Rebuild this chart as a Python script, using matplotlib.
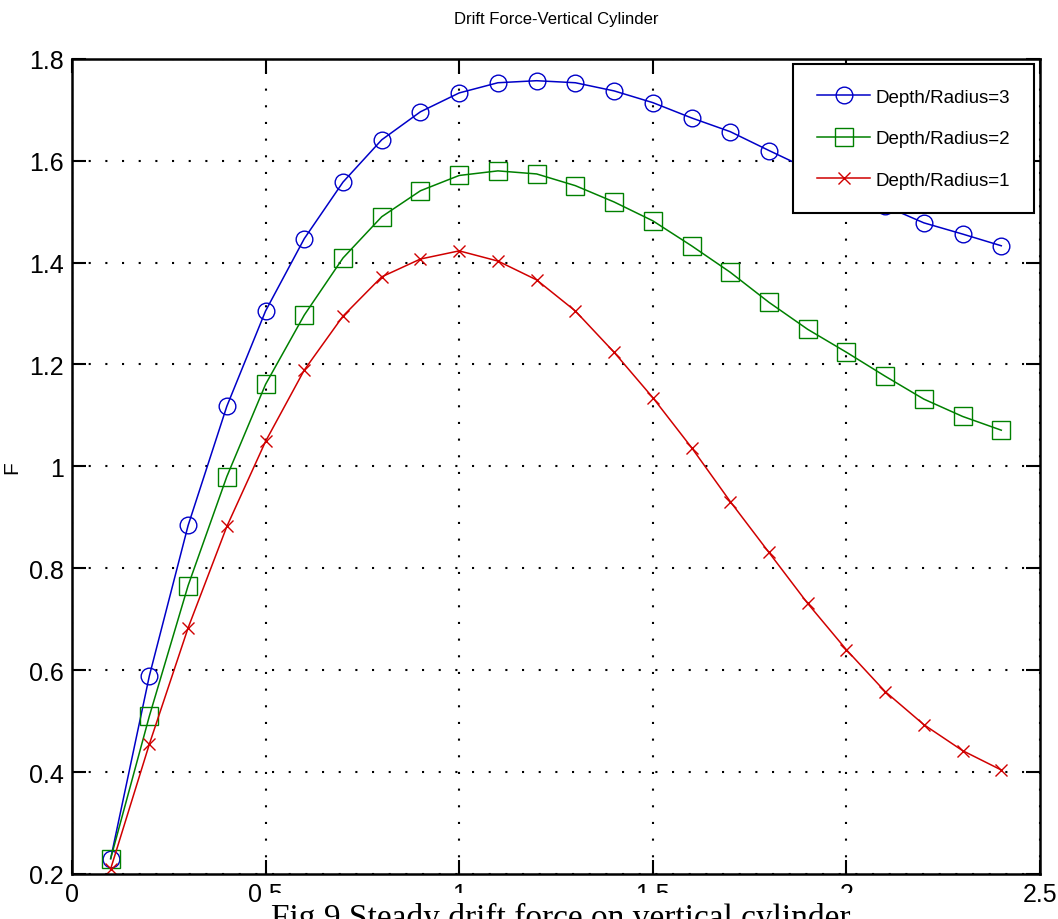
import matplotlib.pyplot as plt
import numpy as np

# wave number values (x) and drift force for the three depth ratios
x = [0.1, 0.2, 0.3, 0.4, 0.5, 0.6, 0.7, 0.8, 0.9, 1.0, 1.1, 1.2,
     1.3, 1.4, 1.5, 1.6, 1.7, 1.8, 1.9, 2.0, 2.1, 2.2, 2.3, 2.4]
f_ratio3 = [0.23, 0.589, 0.884, 1.118, 1.305, 1.447, 1.558, 1.641, 1.696, 1.733,
            1.753, 1.757, 1.753, 1.737, 1.714, 1.684, 1.657, 1.620, 1.584, 1.547,
            1.511, 1.478, 1.456, 1.433]
f_ratio2 = [0.23, 0.51, 0.766, 0.980, 1.161, 1.297, 1.409, 1.490, 1.541, 1.571,
            1.580, 1.574, 1.551, 1.519, 1.482, 1.433, 1.381, 1.322, 1.269, 1.224,
            1.177, 1.132, 1.098, 1.071]
f_ratio1 = [0.21, 0.455, 0.683, 0.882, 1.049, 1.189, 1.295, 1.372, 1.407, 1.423,
            1.403, 1.366, 1.305, 1.224, 1.135, 1.037, 0.931, 0.831, 0.731, 0.640,
            0.558, 0.493, 0.442, 0.404]
labels = ["Depth/Radius=3", "Depth/Radius=2", "Depth/Radius=1"]
xtick_labels = ['0', '0.5', '1', '1.5', '2', '2.5']
ytick_labels = ['0.2', '0.4', '0.6', '0.8', '1', '1.2', '1.4', '1.6', '1.8']

plt.rcParams['font.family'] = ['Liberation Sans', 'DejaVu Sans']

fig = plt.figure(figsize=(10.58, 9.2), dpi=100)
ax = fig.add_axes([0.068, 0.049, 0.915, 0.886])

ax.plot(x, f_ratio3, color='#0000c8', marker='o', markersize=12,
        markerfacecolor='none', linewidth=1.1, label=labels[0])
ax.plot(x, f_ratio2, color='#008000', marker='s', markersize=13,
        markerfacecolor='none', linewidth=1.1, label=labels[1])
ax.plot(x, f_ratio1, color='#d00000', marker='x', markersize=9,
        linewidth=1.1, label=labels[2])

ax.set_xlim(0, 2.5)
ax.set_ylim(0.2, 1.8)
ax.set_xticks([0, 0.5, 1, 1.5, 2, 2.5])
ax.set_xticklabels(xtick_labels)
ax.set_yticks(np.linspace(0.2, 1.8, 9))
ax.set_yticklabels(ytick_labels)
ax.tick_params(direction='in', length=10, width=1.5, labelsize=18,
               top=True, right=True, pad=6)
ax.grid(True, color='black', linestyle=(0, (1, 7)), linewidth=1.5)
for s in ax.spines.values():
    s.set_linewidth(1.8)

ax.set_title("Drift Force-Vertical Cylinder", fontsize=12, pad=26)
ax.set_ylabel("F", fontsize=15)
ax.yaxis.set_label_coords(-0.052, 0.5)

leg = ax.legend(loc='upper right', fontsize=13.5, fancybox=False, framealpha=1,
                edgecolor='black', borderaxespad=0.3, handlelength=2.8,
                labelspacing=1.3, handletextpad=0.3, borderpad=1.3)
leg.get_frame().set_linewidth(1.5)

# caption pasted over the lower part of the figure, as in the source image
fig.text(0.53, 0.019, "Fig.9 Steady drift force on vertical cylinder",
         family='Liberation Serif', fontsize=24, ha='center', va='top',
         bbox=dict(facecolor='white', edgecolor='none', pad=6), zorder=10)

fig.savefig("out.png", dpi=100)
